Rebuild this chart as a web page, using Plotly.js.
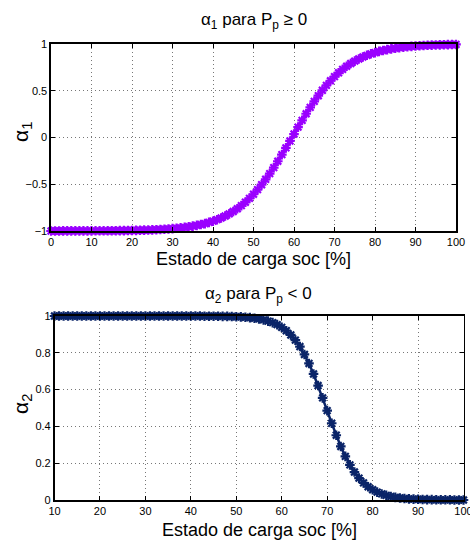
<!DOCTYPE html>
<html>
<head>
<meta charset="utf-8">
<script src="https://cdn.plot.ly/plotly-3.0.1.min.js"></script>
<style>html,body{margin:0;padding:0;background:#fff;}#chart{width:470px;height:540px;}</style>
</head>
<body>
<div id="chart"></div>
<script>
// ---- data ----
const soc1 = [0,1,2,3,4,5,6,7,8,9,10,11,12,13,14,15,16,17,18,19,20,21,22,23,24,25,26,27,28,29,30,31,32,33,34,35,36,37,38,39,40,41,42,43,44,45,46,47,48,49,50,51,52,53,54,55,56,57,58,59,60,61,62,63,64,65,66,67,68,69,70,71,72,73,74,75,76,77,78,79,80,81,82,83,84,85,86,87,88,89,90,91,92,93,94,95,96,97,98,99,100];
const alpha1 = [-1.000,-1.000,-1.000,-0.999,-0.999,-0.999,-0.999,-0.999,-0.999,-0.999,-0.999,-0.998,-0.998,-0.998,-0.998,-0.997,-0.997,-0.996,-0.996,-0.995,
  -0.994,-0.993,-0.992,-0.991,-0.990,-0.988,-0.986,-0.984,-0.981,-0.978,-0.975,-0.971,-0.967,-0.961,-0.955,-0.948,-0.940,-0.931,-0.921,-0.908,
  -0.895,-0.879,-0.861,-0.840,-0.817,-0.791,-0.762,-0.729,-0.692,-0.651,-0.607,-0.558,-0.505,-0.447,-0.386,-0.322,-0.254,-0.183,-0.111,-0.037,
  0.037,0.111,0.183,0.254,0.322,0.386,0.447,0.505,0.558,0.607,0.651,0.692,0.729,0.762,0.791,0.817,0.840,0.861,0.879,0.895,
  0.908,0.921,0.931,0.940,0.948,0.955,0.961,0.967,0.971,0.975,0.978,0.981,0.984,0.986,0.988,0.990,0.991,0.992,0.993,0.994,0.995];

const soc2 = [10,11,12,13,14,15,16,17,18,19,20,21,22,23,24,25,26,27,28,29,30,31,32,33,34,35,36,37,38,39,40,41,42,43,44,45,46,47,48,49,50,51,52,53,54,55,56,57,58,59,60,61,62,63,64,65,66,67,68,69,70,71,72,73,74,75,76,77,78,79,80,81,82,83,84,85,86,87,88,89,90,91,92,93,94,95,96,97,98,99,100];
const alpha2 = [1.000,1.000,1.000,1.000,1.000,1.000,1.000,1.000,1.000,1.000,
  1.000,1.000,1.000,1.000,1.000,1.000,1.000,1.000,1.000,1.000,
  1.000,1.000,1.000,1.000,1.000,1.000,1.000,1.000,1.000,1.000,
  1.000,1.000,1.000,0.999,0.999,0.999,0.999,0.998,0.998,0.997,
  0.996,0.995,0.993,0.991,0.988,0.984,0.979,0.972,0.964,0.953,
  0.938,0.920,0.897,0.869,0.834,0.791,0.742,0.685,0.622,0.555,
  0.486,0.417,0.352,0.291,0.237,0.191,0.152,0.119,0.093,0.072,
  0.056,0.043,0.033,0.025,0.019,0.014,0.011,0.008,0.006,0.005,
  0.004,0.003,0.002,0.002,0.001,0.001,0.001,0.001,0.000,0.000,0.000];

const ticks1x = [0,10,20,30,40,50,60,70,80,90,100];
const ticks1y = [-1,-0.5,0,0.5,1];
const ticks1yText = ['−1','−0.5','0','0.5','1'];
const ticks2x = [10,20,30,40,50,60,70,80,90,100];
const ticks2y = [0,0.2,0.4,0.6,0.8,1];

const title1 = 'α<sub>1</sub> para P<sub>p</sub> ≥ 0';
const title2 = 'α<sub>2</sub> para P<sub>p</sub> < 0';
const xTitle = 'Estado de carga soc [%]';
const yTitle1 = 'α<sub>1</sub>';
const yTitle2 = 'α<sub>2</sub>';

// ---- styling ----
const FONT = 'Liberation Sans, Arial, Helvetica, sans-serif';
const c1 = '#9a00ff';
const c2 = '#0a2468';

function trace(x, y, col, xa, ya) {
  return {
    x: x, y: y, xaxis: xa, yaxis: ya, type: 'scatter', mode: 'lines+markers',
    line: {color: col, width: 2.5},
    marker: {symbol: 'asterisk-open', size: 8, color: col, line: {color: col, width: 2.2}},
    cliponaxis: false, showlegend: false, hoverinfo: 'skip'
  };
}

function axis(domain, range, tickvals, anchor) {
  return {
    domain: domain, range: range, anchor: anchor,
    tickmode: 'array', tickvals: tickvals,
    ticks: 'inside', ticklen: 4, tickcolor: '#000', tickwidth: 1,
    showline: true, linecolor: '#000', linewidth: 1.6, mirror: 'ticks',
    showgrid: true, gridcolor: '#777', griddash: '1px,3px', gridwidth: 1,
    zeroline: false, automargin: false, ticklabeloverflow: 'allow',
    tickfont: {family: FONT, size: 11, color: '#000'}
  };
}

const W = 470, H = 540;
const px = v => v / W;
const py = v => (H - v) / H;

function ann(text, x, y, size, angle) {
  return {text: text, x: px(x), y: py(y), xref: 'paper', yref: 'paper', showarrow: false,
    xanchor: 'center', yanchor: 'middle', textangle: angle || 0, font: {size: size, family: FONT, color: '#000'}};
}

const layout = {
  width: W, height: H,
  margin: {l: 0, r: 0, t: 0, b: 0},
  paper_bgcolor: '#fff', plot_bgcolor: '#fff',
  font: {family: FONT, color: '#000'},
  xaxis: axis([px(51), px(456)], [0, 100], ticks1x, 'y'),
  yaxis: Object.assign(axis([py(231), py(44)], [-1, 1], ticks1y, 'x'), {ticktext: ticks1yText}),
  xaxis2: axis([px(54.5), px(463.5)], [10, 100], ticks2x, 'y2'),
  yaxis2: axis([py(500), py(316)], [0, 1], ticks2y, 'x2'),
  annotations: [
    ann(title1, 253.5, 21, 17),
    ann(title2, 258, 295, 17),
    ann(xTitle, 253.5, 259, 18),
    ann(xTitle, 259, 530, 18),
    ann(yTitle1, 22, 132, 21, -90),
    ann(yTitle2, 22, 404, 21, -90)
  ]
};

Plotly.newPlot('chart', [trace(soc1, alpha1, c1, 'x', 'y'), trace(soc2, alpha2, c2, 'x2', 'y2')], layout, {displayModeBar: false, staticPlot: true});
</script>
</body>
</html>
